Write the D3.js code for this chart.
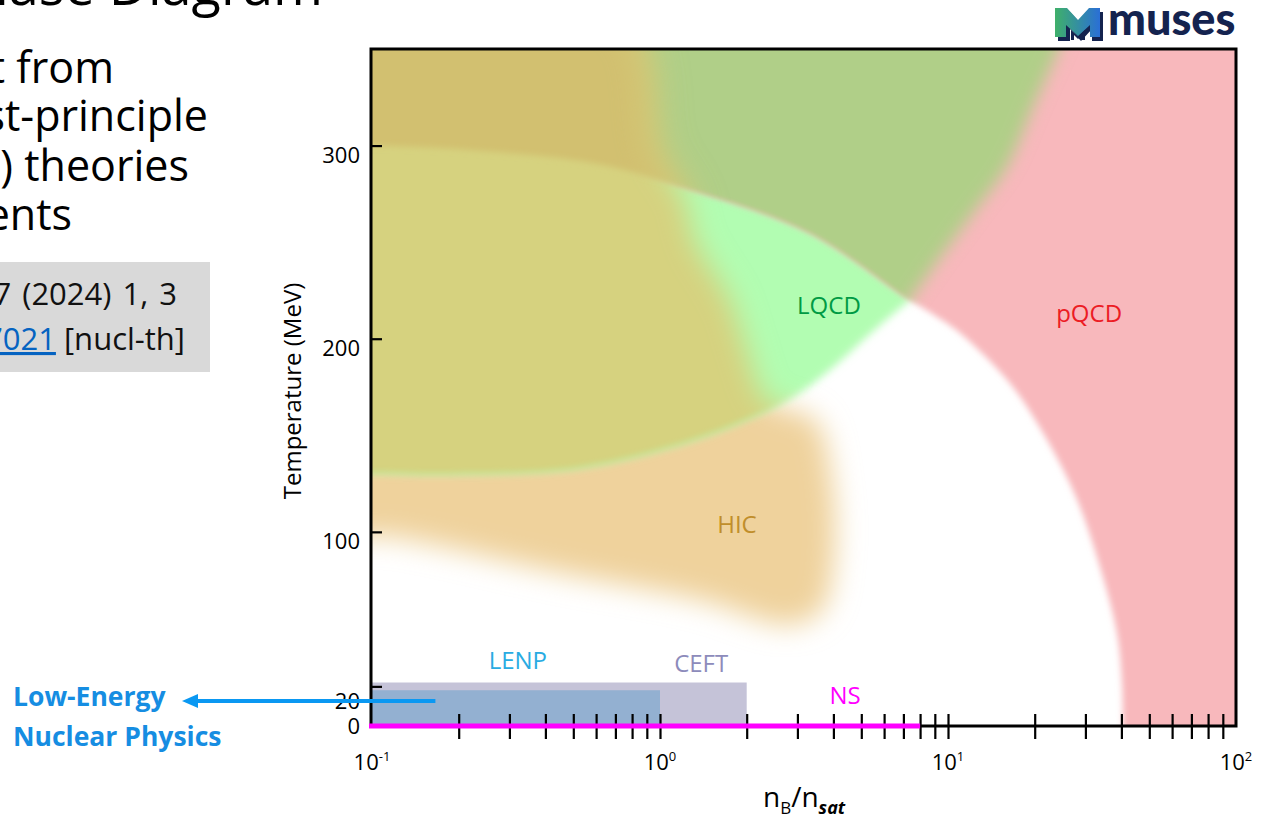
<!DOCTYPE html>
<html>
<head>
<meta charset="utf-8">
<script src="https://cdn.jsdelivr.net/npm/d3@7"></script>
<style>
  html, body { margin: 0; padding: 0; background: #fff; }
  svg { display: block; font-family: "Open Sans", sans-serif; }
</style>
</head>
<body>
<svg id="chart" width="1262" height="821"></svg>
<script>
// boundaries as [nB/nsat, T (MeV)]
const pqcdEdge = [[0.0774, 300], [0.1, 300], [0.219, 297.7], [0.585, 291], [1.30, 277], [3.32, 254.7],
  [7.38, 220], [9.0, 212], [11.0, 203], [16.4, 177], [22.1, 147.6], [28.1, 116.5], [33.7, 81.8],
  [38.6, 47.6], [40.2, 21.7], [40.5, -8]];
const lqcdUpper = [[25.5, 400], [25.5, 360], [23.9, 348], [19.7, 320], [16.0, 289], [12.2, 265],
  [9.38, 242], [7.38, 220]];
const lqcdLower = [[7.38, 220], [5.81, 207], [4.95, 197.8], [3.89, 183.8], [2.90, 169.8], [1.90, 156.9],
  [1.30, 147.6], [0.726, 137.2], [0.450, 132], [0.187, 130], [0.1, 130.5], [0.0774, 130.5]];
const hicEdge = [[0.05, 364], [0.75, 365], [0.98, 296], [1.22, 272], [1.32, 251], [1.75, 220],
  [2.0, 194], [2.35, 168], [3.45, 158], [3.95, 127], [4.02, 85.4], [3.65, 59.5], [2.83, 51.8],
  [1.38, 64.7], [0.45, 78.7], [0.118, 97.3], [0.05, 103]];
const ceftBox = [[0.1, 2], [0, 22]];
const lenpBox = [[0.1, 1], [0, 18]];
const nsRange = [0.1, 8];

const xMinorTicks = [0.2, 0.3, 0.4, 0.5, 0.6, 0.7, 0.8, 0.9, 1, 2, 3, 4, 5, 6, 7, 8, 9, 10,
  20, 30, 40, 50, 60, 70, 80, 90];
const xLabelValues = [0.1, 1, 10, 100];
const xLabelExps = ['-1', '0', '1', '2'];
const yTicks = [20, 100, 200, 300];
const yLabels = [0, 20, 100, 200, 300];

const regionLabels = [
  { text: 'LQCD', at: [3.86, 213], color: '#009a44' },
  { text: 'pQCD', at: [30.9, 208.7], color: '#ec1c24' },
  { text: 'HIC', at: [1.85, 99.4], color: '#c08e2b' },
  { text: 'LENP', at: [0.321, 29], color: '#29abe2' },
  { text: 'CEFT', at: [1.39, 27.4], color: '#8d8bbb' },
  { text: 'NS', at: [4.39, 10.9], color: '#ff00ff' },
];
const arrowFrom = [0.166, 12.4];

const svg = d3.select('#chart');
const x = d3.scaleLog().domain([0.1, 100]).range([372, 1236]);
const y = d3.scaleLinear().domain([0, 350]).range([725, 49]);

const defs = svg.append('defs');
function blur(id, sd) {
  defs.append('filter').attr('id', id)
    .attr('filterUnits', 'userSpaceOnUse')
    .attr('x', 0).attr('y', 0).attr('width', 1262).attr('height', 821)
    .append('feGaussianBlur').attr('stdDeviation', sd);
}
blur('b2', 2); blur('b3', 3); blur('b4', 4); blur('b8', 8); blur('b14', 14); blur('b18', 18);

const smooth = d3.line().x(d => x(d[0])).y(d => y(d[1])).curve(d3.curveCatmullRom);
const straight = d3.line().x(d => x(d[0])).y(d => y(d[1]));
function shape(parts) {
  return parts.map((p, i) => {
    const s = (p.smooth ? smooth : straight)(p.pts);
    return i ? 'L' + s.slice(1) : s;
  }).join('') + 'Z';
}

const pqcdD = shape([
  { smooth: true, pts: pqcdEdge },
  { pts: [[40.5, -8], [200, -8], [200, 400], [0.05, 400], [0.05, 300]] },
]);
const lqcdD = shape([
  { smooth: true, pts: lqcdUpper },
  { smooth: true, pts: lqcdLower },
  { pts: [[0.05, 130.5], [0.05, 400]] },
]);
const hicD = d3.line().x(d => x(d[0])).y(d => y(d[1])).curve(d3.curveCatmullRomClosed)(hicEdge);

defs.append('clipPath').attr('id', 'plotClip').append('rect')
  .attr('x', x(0.1)).attr('y', y(350))
  .attr('width', x(100) - x(0.1)).attr('height', y(0) - y(350));
defs.append('clipPath').attr('id', 'clipL').append('path').attr('d', lqcdD);
defs.append('clipPath').attr('id', 'clipP').append('path').attr('d', pqcdD);

const plot = svg.append('g').attr('clip-path', 'url(#plotClip)');

// HIC (below the others, shows where they are absent)
plot.append('path').attr('d', hicD).attr('fill', '#efd29c').attr('filter', 'url(#b14)');
// LQCD
plot.append('path').attr('d', lqcdD).attr('fill', '#b2fdb2').attr('filter', 'url(#b4)');
// pQCD
plot.append('path').attr('d', pqcdD).attr('fill', '#f8b8bc').attr('filter', 'url(#b3)');
// LQCD and pQCD overlap
plot.append('g').attr('filter', 'url(#b2)')
  .append('g').attr('clip-path', 'url(#clipP)')
  .append('path').attr('d', lqcdD).attr('fill', '#b0cf88').attr('filter', 'url(#b8)');
// HIC over LQCD
plot.append('g').attr('filter', 'url(#b3)')
  .append('g').attr('clip-path', 'url(#clipL)')
  .append('path').attr('d', hicD).attr('fill', '#d6d27f').attr('filter', 'url(#b14)');
// HIC over LQCD and pQCD
plot.append('g').attr('filter', 'url(#b3)')
  .append('g').attr('clip-path', 'url(#clipL)')
  .append('g').attr('clip-path', 'url(#clipP)')
  .append('path').attr('d', hicD).attr('fill', '#d2c070').attr('filter', 'url(#b18)');

// CEFT and LENP
plot.append('rect')
  .attr('x', x(ceftBox[0][0])).attr('y', y(ceftBox[1][1]))
  .attr('width', x(ceftBox[0][1]) - x(ceftBox[0][0]))
  .attr('height', y(ceftBox[1][0]) - y(ceftBox[1][1]))
  .attr('fill', '#c5c3d8');
plot.append('rect')
  .attr('x', x(lenpBox[0][0])).attr('y', y(lenpBox[1][1]))
  .attr('width', x(lenpBox[0][1]) - x(lenpBox[0][0]))
  .attr('height', y(lenpBox[1][0]) - y(lenpBox[1][1]))
  .attr('fill', '#93b0d1');

// frame
svg.append('rect')
  .attr('x', x(0.1) - 1).attr('y', y(350))
  .attr('width', x(100) - x(0.1) + 1).attr('height', y(0) - y(350) + 1)
  .attr('fill', 'none').attr('stroke', '#000').attr('stroke-width', 3);

// x axis ticks
const xAxis = svg.append('g').attr('transform', `translate(0,${y(0) + 1})`)
  .call(d3.axisBottom(x).tickValues(xMinorTicks).tickSize(13).tickFormat(''));
xAxis.select('.domain').remove();
xAxis.selectAll('line').attr('y1', -12).attr('stroke-width', 2.2);

// NS line
svg.append('line')
  .attr('x1', x(nsRange[0]) - 3).attr('x2', x(nsRange[1]))
  .attr('y1', y(0) + 1).attr('y2', y(0) + 1)
  .attr('stroke', '#ff00ff').attr('stroke-width', 5);

// x labels
xLabelValues.forEach((v, i) => {
  const t = svg.append('text')
    .attr('x', x(v)).attr('y', 770)
    .attr('text-anchor', 'middle').attr('font-size', 22).attr('fill', '#000');
  t.append('tspan').text('10');
  t.append('tspan').attr('font-size', 13).attr('dy', -9).text(xLabelExps[i]);
});

// y axis ticks
const yAxis = svg.append('g').attr('transform', `translate(${x(0.1) - 1},0)`)
  .call(d3.axisLeft(y).tickValues(yTicks).tickSize(13).tickFormat(''));
yAxis.select('.domain').remove();
yAxis.selectAll('line').attr('x2', 11).attr('stroke-width', 2.2);

yLabels.forEach(v => {
  const dy = v === 0 ? 9 : v === 20 ? 23 : 17;
  svg.append('text')
    .attr('x', 360).attr('y', y(v) + dy)
    .attr('text-anchor', 'end').attr('font-size', 22).attr('fill', '#000')
    .text(v);
});

// axis titles
svg.append('text')
  .attr('transform', 'translate(301,391) rotate(-90)')
  .attr('text-anchor', 'middle').attr('font-size', 24).attr('fill', '#000')
  .text('Temperature (MeV)');

const xt = svg.append('text').attr('x', 763).attr('y', 807).attr('font-size', 28).attr('fill', '#000');
xt.append('tspan').text('n');
xt.append('tspan').attr('font-size', 17).attr('dy', 7).text('B');
xt.append('tspan').attr('dy', -7).text('/n');
xt.append('tspan').attr('font-size', 18).attr('dy', 7)
  .attr('font-weight', 'bold').attr('font-style', 'italic').text('sat');

// region labels
regionLabels.forEach(d => {
  svg.append('text')
    .attr('x', x(d.at[0])).attr('y', y(d.at[1]))
    .attr('text-anchor', 'middle').attr('font-size', 24).attr('fill', d.color)
    .text(d.text);
});

// arrow to Low-Energy Nuclear Physics
const ay = y(arrowFrom[1]);
svg.append('line')
  .attr('x1', x(arrowFrom[0])).attr('x2', 194).attr('y1', ay).attr('y2', ay)
  .attr('stroke', '#0a98f2').attr('stroke-width', 4);
svg.append('path')
  .attr('d', `M182,${ay}L198,${ay - 7}L198,${ay + 7}Z`)
  .attr('fill', '#0a98f2');

svg.append('text').attr('x', 13).attr('y', 706)
  .attr('font-size', 26.5).attr('font-weight', 'bold').attr('fill', '#168de2')
  .text('Low-Energy');
svg.append('text').attr('x', 13).attr('y', 746)
  .attr('font-size', 26.5).attr('font-weight', 'bold').attr('fill', '#168de2')
  .text('Nuclear Physics');

// slide text (cut at the left edge)
svg.append('text').attr('x', 323).attr('y', 5)
  .attr('text-anchor', 'end').attr('font-size', 54).attr('fill', '#000')
  .text('Phase Diagram');

const bodyLines = ['Input from', 'first-principle', '(QCD) theories', 'experiments'];
const bodyEnds = [114, 208, 189, 72];
const bodyBase = [83, 131, 181, 230];
bodyLines.forEach((s, i) => {
  svg.append('text').attr('x', bodyEnds[i]).attr('y', bodyBase[i])
    .attr('text-anchor', 'end').attr('font-size', 43).attr('fill', '#000')
    .text(s);
});

svg.append('rect').attr('x', 0).attr('y', 262).attr('width', 210).attr('height', 110).attr('fill', '#d9d9d9');
svg.append('text').attr('x', 177).attr('y', 305)
  .attr('text-anchor', 'end').attr('font-size', 31).attr('fill', '#111')
  .attr('word-spacing', 3)
  .text('Living Rev. Rel. 27 (2024) 1, 3');
const ref2 = svg.append('text').attr('x', 185).attr('y', 350)
  .attr('text-anchor', 'end').attr('font-size', 31).attr('fill', '#111');
ref2.append('tspan').attr('fill', '#0563c1').style('text-decoration', 'underline').text('arXiv:2303.17021');
ref2.append('tspan').text(' [nucl-th]');

// muses logo
const grad = defs.append('linearGradient').attr('id', 'mgrad').attr('x1', 0).attr('x2', 1).attr('y1', 0).attr('y2', 0);
grad.append('stop').attr('offset', 0).attr('stop-color', '#3fb06a');
grad.append('stop').attr('offset', 1).attr('stop-color', '#2a6fd6');
const logo = svg.append('g');
logo.append('path')
  .attr('d', 'M1058,12L1070,12L1081,24L1092,12L1103,12L1103,41L1092,41L1092,29L1081,41L1070,29L1070,41L1058,41Z')
  .attr('fill', '#14234f');
logo.append('path')
  .attr('d', 'M1055,8L1067,8L1078,20L1089,8L1100,8L1100,37L1090,37L1090,25L1078,36L1066,25L1066,37L1055,37Z')
  .attr('fill', 'url(#mgrad)');
logo.append('path')
  .attr('d', 'M1071,30L1078,37L1085,30L1085,40L1082,40L1082,35L1078,39L1074,35L1074,40L1071,40Z')
  .attr('fill', '#14234f');
svg.append('text').attr('x', 1108).attr('y', 35)
  .attr('font-family', 'Lato, "Open Sans", sans-serif')
  .attr('font-size', 45).attr('font-weight', 900).attr('fill', '#14234f')
  .text('muses');
</script>
</body>
</html>
